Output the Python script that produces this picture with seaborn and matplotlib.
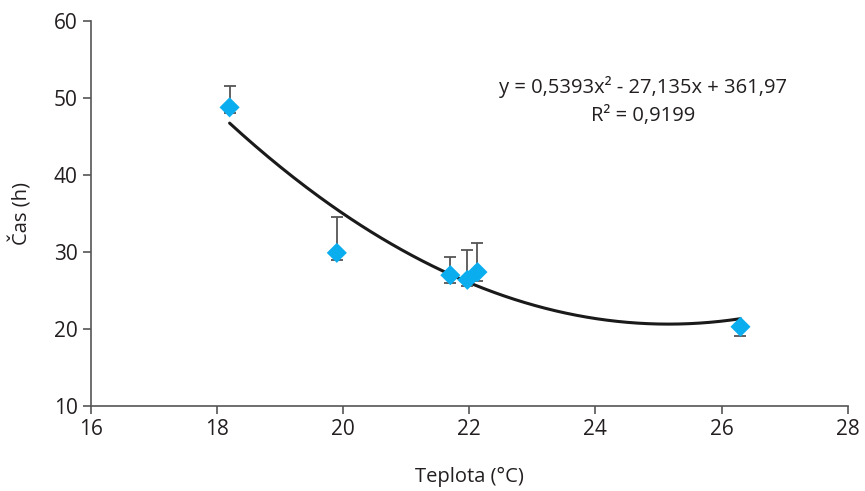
import numpy as np
import pandas as pd
import matplotlib
matplotlib.use("Agg")
import matplotlib.pyplot as plt
import seaborn as sns

# data
teplota = [18.2, 19.9, 21.7, 21.97, 22.13, 26.3]
cas = [48.8, 29.9, 27.0, 26.4, 27.4, 20.3]
err_low = [0.8, 0.9, 1.0, 0.8, 1.1, 1.2]
err_high = [2.8, 4.7, 2.4, 3.9, 3.8, 0.4]
# trendline coefficients as printed on the chart
coef = [0.5393, -27.135, 361.97]
r2 = 0.9199

df = pd.DataFrame({"Teplota": teplota, "Cas": cas})

sns.set_style("white")
plt.rcParams['font.family'] = ['Open Sans', 'DejaVu Sans']

fig = plt.figure(figsize=(8.65, 4.91), dpi=100)
ax = fig.add_axes([0.105, 0.173, 0.875, 0.784])

# trendline
xs = np.linspace(min(teplota), max(teplota), 200)
trend = pd.DataFrame({"x": xs, "y": np.polyval(coef, xs)})
sns.lineplot(data=trend, x="x", y="y", color="#1a1a1a", lw=2.2, ax=ax, zorder=2)

ax.errorbar(df["Teplota"], df["Cas"], yerr=[err_low, err_high], fmt="none",
            ecolor="#555555", elinewidth=1.3, capsize=4, capthick=1.3, zorder=3)

sns.scatterplot(data=df, x="Teplota", y="Cas", marker="D", s=105, color="#0aaeef",
                edgecolor="none", ax=ax, zorder=4)

txt_col = "#231f20"
ax.text(24.75, 51.4, "y = 0,5393x² - 27,135x + 361,97", ha="center", va="center",
        fontsize=14.5, color=txt_col)
ax.text(24.75, 47.7, "R² = 0,9199", ha="center", va="center",
        fontsize=14.5, color=txt_col)

ax.set_xlim(16, 28)
ax.set_ylim(10, 60)
ax.set_xticks([16, 18, 20, 22, 24, 26, 28])
ax.set_yticks([10, 20, 30, 40, 50, 60])
ax.set_xlabel("Teplota (°C)", fontsize=14.5, color=txt_col, labelpad=19)
ax.set_ylabel("Čas (h)", fontsize=14.5, color=txt_col, labelpad=15)

sns.despine(ax=ax)
for s in ["left", "bottom"]:
    ax.spines[s].set_color("#555555")
    ax.spines[s].set_linewidth(1.2)
ax.tick_params(axis="both", direction="out", length=6, width=1.2, color="#555555",
               labelsize=15, labelcolor=txt_col, bottom=True, left=True)

fig.savefig("out.png", dpi=100)
